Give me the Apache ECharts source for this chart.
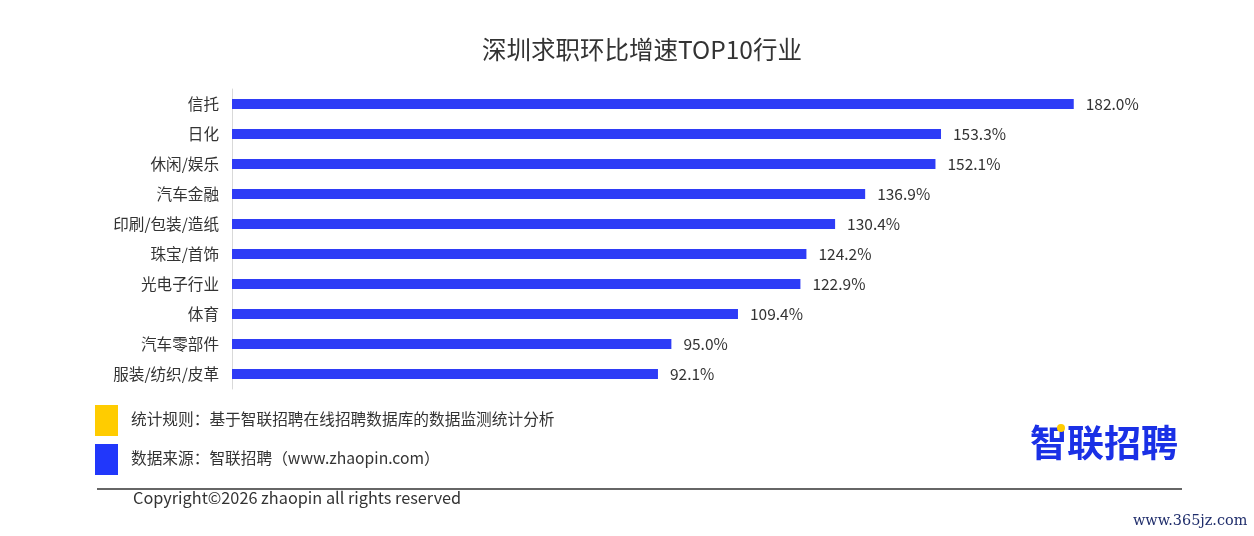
<!DOCTYPE html>
<html>
<head>
<meta charset="utf-8">
<script src="https://cdn.jsdelivr.net/npm/echarts@6/dist/echarts.min.js"></script>
<style>html,body{margin:0;padding:0;background:#fff;}#c{width:1254px;height:536px;}</style>
</head>
<body>
<div id="c"></div>
<script>
const categories = ['信托','日化','休闲/娱乐','汽车金融','印刷/包装/造纸','珠宝/首饰','光电子行业','体育','汽车零部件','服装/纺织/皮革'];
const values = [182.0,153.3,152.1,136.9,130.4,124.2,122.9,109.4,95.0,92.1];
const titleText = '深圳求职环比增速TOP10行业';
const noteRule = '统计规则：基于智联招聘在线招聘数据库的数据监测统计分析';
const noteSource = '数据来源：智联招聘（www.zhaopin.com）';
const copyrightText = 'Copyright©2026 zhaopin all rights reserved';
const logoText = '智联招聘';
const watermark = 'www.365jz.com';

const font = '"Noto Sans CJK SC","Noto Sans",sans-serif';
const chart = echarts.init(document.getElementById('c'));
chart.setOption({
  backgroundColor: '#fff',
  animation: false,
  title: {
    text: titleText, left: 477, top: 32,
    textStyle: { fontFamily: font, fontSize: 24.5, fontWeight: 'normal', color: '#333' }
  },
  grid: { left: 232, right: 97, top: 89, height: 300 },
  xAxis: { type: 'value', min: 0, max: 200, show: false },
  yAxis: {
    type: 'category', data: categories, inverse: true,
    axisLine: { show: true, lineStyle: { color: '#d9d9d9', width: 1 } },
    axisTick: { show: false },
    axisLabel: { margin: 13, fontFamily: font, fontSize: 15.6, color: '#333' }
  },
  series: [{
    type: 'bar', data: values, barWidth: 10,
    itemStyle: { color: '#2e3cf6' },
    label: {
      show: true, position: 'right', distance: 12,
      fontFamily: font, fontSize: 15.5, color: '#333',
      formatter: p => p.value.toFixed(1) + '%'
    }
  }],
  graphic: [
    { type: 'rect', shape: { x: 95, y: 405, width: 23, height: 31 }, style: { fill: '#ffcc00' } },
    { type: 'rect', shape: { x: 95, y: 444, width: 23, height: 31 }, style: { fill: '#2137fb' } },
    { type: 'text', x: 131, y: 419, style: { text: noteRule, font: '15.7px ' + font, fill: '#333', verticalAlign: 'middle' } },
    { type: 'text', x: 131, y: 458, style: { text: noteSource, font: '15.7px ' + font, fill: '#333', verticalAlign: 'middle' } },
    { type: 'line', shape: { x1: 97, y1: 489, x2: 1182, y2: 489 }, style: { stroke: '#333', lineWidth: 1.5 } },
    { type: 'text', x: 133, y: 498, style: { text: copyrightText, font: '16.3px ' + font, fill: '#333', verticalAlign: 'middle' } },
    { type: 'text', x: 1030, y: 443, style: { text: logoText, font: 'bold 37px ' + font, fill: '#1a30e6', verticalAlign: 'middle' } },
    { type: 'circle', shape: { cx: 1061, cy: 428, r: 4 }, style: { fill: '#ffcc00' } },
    { type: 'text', x: 1133, y: 521, style: { text: watermark, font: '14.4px "DejaVu Serif","Liberation Serif",serif', fill: '#1f2d6b', verticalAlign: 'middle' } }
  ]
});
</script>
</body>
</html>
